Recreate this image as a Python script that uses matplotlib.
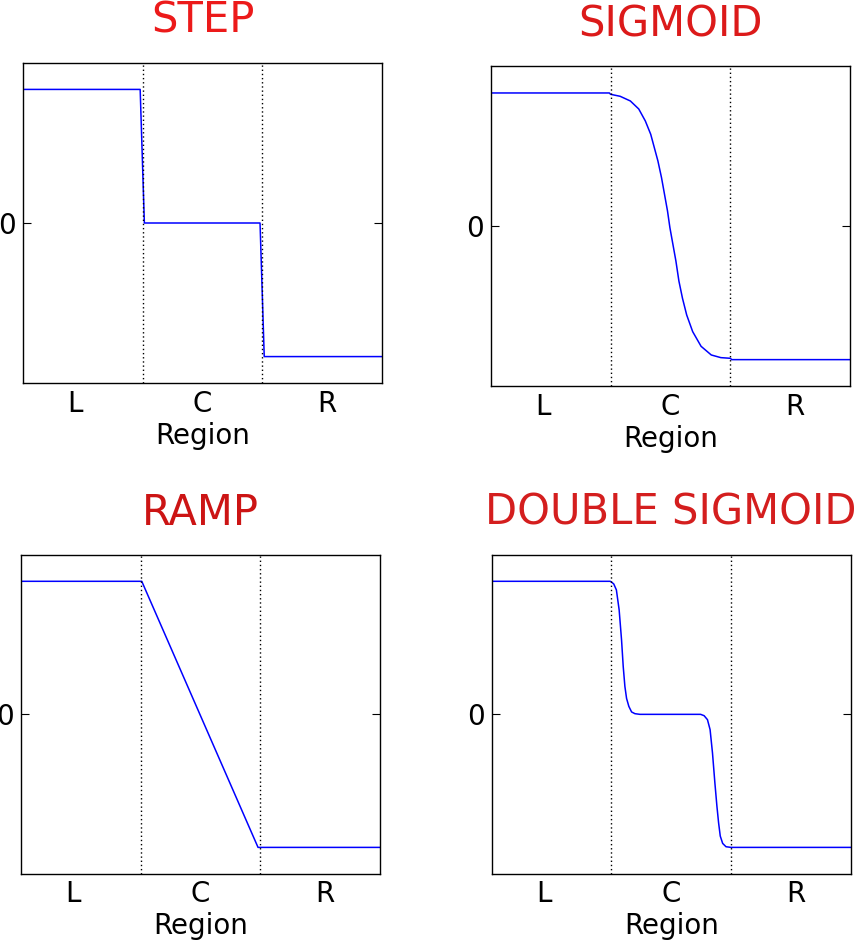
import matplotlib
matplotlib.use("Agg")
import matplotlib.pyplot as plt

# --- data ---
titles = ["STEP", "SIGMOID", "RAMP", "DOUBLE SIGMOID"]
title_colors = ["#ec1a1a", "#dc1a1a", "#cc1414", "#d41e1e"]
regions = ["L", "C", "R"]
region_pos = [0.44, 1.5, 2.54]
boundaries = [1.0, 2.0]

step_x = [0.0, 0.98, 1.015, 1.98, 2.015, 3.0]
step_y = [1.0, 1.0, 0.0, 0.0, -1.0, -1.0]

sig_x = [0.0, 0.99, 1.0, 1.08, 1.165, 1.235, 1.29, 1.335, 1.365, 1.395,
         1.425, 1.45, 1.475, 1.495, 1.52, 1.545, 1.57, 1.6, 1.635, 1.685,
         1.755, 1.84, 1.92, 2.0, 2.01, 3.0]
sig_y = [1.0, 1.0, 0.99, 0.975, 0.94, 0.88, 0.79, 0.69, 0.59, 0.49,
         0.365, 0.24, 0.115, -0.01, -0.135, -0.26, -0.41, -0.54, -0.665, -0.79,
         -0.90, -0.965, -0.985, -0.99, -1.0, -1.0]

ramp_x = [0.0, 1.01, 1.98, 3.0]
ramp_y = [1.0, 1.0, -1.0, -1.0]

dsig_x = [0.0, 0.99, 1.0, 1.02, 1.042, 1.065, 1.085, 1.099, 1.113, 1.127, 1.146,
          1.169, 1.197, 1.239, 1.746, 1.775, 1.803, 1.825, 1.845, 1.865,
          1.882, 1.896, 1.91, 1.93, 1.958, 2.0, 3.0]
dsig_y = [1.0, 1.0, 0.995, 0.98, 0.935, 0.785, 0.56, 0.36, 0.21, 0.12, 0.06,
          0.018, 0.005, 0.0, 0.0, -0.01, -0.04, -0.115, -0.29, -0.515,
          -0.69, -0.815, -0.915, -0.97, -0.995, -1.0, -1.0]

curves = [(step_x, step_y), (sig_x, sig_y), (ramp_x, ramp_y), (dsig_x, dsig_y)]

# axes boxes in pixels: left, top, right, bottom
W, H = 855, 942
boxes = [
    (22.7, 62.7, 382.3, 383.3),
    (490.7, 66.3, 850.3, 386.3),
    (20.7, 554.7, 380.3, 874.0),
    (491.7, 554.7, 850.7, 874.0),
]

fig = plt.figure(figsize=(W / 100, H / 100), dpi=100)

for (x, y), title, tcol, (l, t, r, b) in zip(curves, titles, title_colors, boxes):
    ax = fig.add_axes([l / W, 1 - b / H, (r - l) / W, (b - t) / H])
    ax.plot(x, y, color="#0000ff", linewidth=1.1)
    for xb in boundaries:
        ax.axvline(xb, color="k", linewidth=1.0, linestyle=(0, (1, 2)))
    ax.set_xlim(0, 3)
    ax.set_ylim(-1.2, 1.2)
    ax.set_xticks(region_pos)
    ax.set_xticklabels(regions)
    ax.set_yticks([0])
    ax.set_yticklabels(["0"])
    ax.tick_params(axis="x", length=0, labelsize=20, pad=4.5)
    ax.tick_params(axis="y", direction="in", length=5.6, labelsize=20,
                   right=True, pad=5)
    ax.set_xlabel("Region", fontsize=20, labelpad=3)
    ax.set_title(title, color=tcol, fontsize=30, pad=21.5)
    for s in ax.spines.values():
        s.set_linewidth(1.0)

fig.savefig("out.png", dpi=100)
